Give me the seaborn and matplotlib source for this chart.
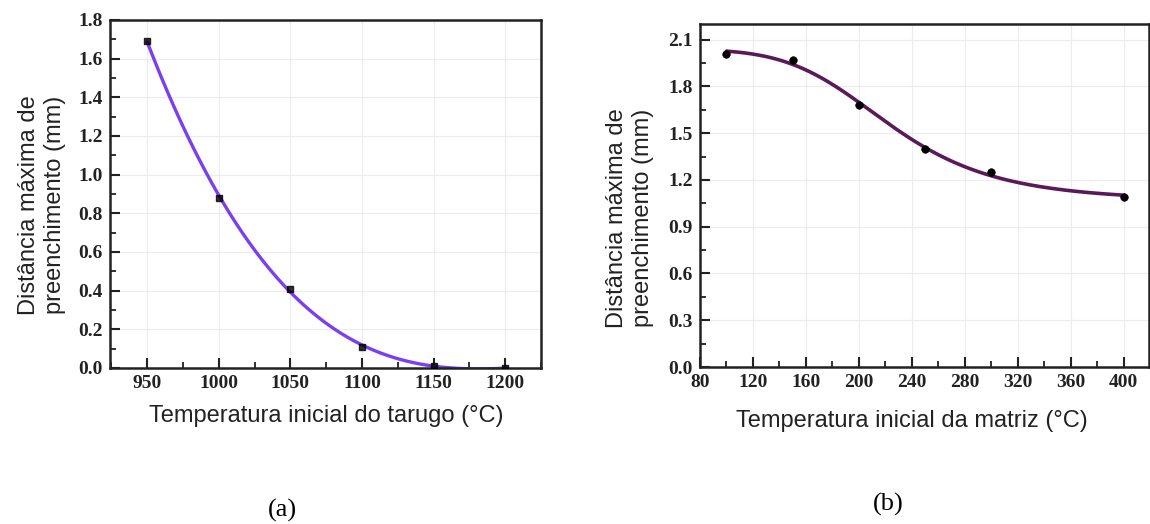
import matplotlib
matplotlib.use("Agg")
import matplotlib.pyplot as plt
from matplotlib.ticker import MultipleLocator, FormatStrFormatter
import seaborn as sns
import pandas as pd
import numpy as np

# ---- data ----
temp_tarugo = [950, 1000, 1050, 1100, 1150, 1200]
dist_a = [1.69, 0.88, 0.41, 0.11, 0.01, 0.00]

temp_matriz = [100, 150, 200, 250, 300, 400]
dist_b = [2.01, 1.97, 1.68, 1.40, 1.25, 1.09]

ylabel_txt = "Distância máxima de\npreenchimento (mm)"
xlabel_a = "Temperatura inicial do tarugo (°C)"
xlabel_b = "Temperatura inicial da matriz (°C)"

sns.set_theme(style="white")
plt.rcParams['font.family'] = ['Liberation Sans', 'DejaVu Sans']

W, H = 1150, 524
fig = plt.figure(figsize=(W / 100, H / 100), dpi=100)

def frac(l, r, t, b):
    return [l / W, 1 - b / H, (r - l) / W, (b - t) / H]

ax1 = fig.add_axes(frac(110, 541, 20, 368))
ax2 = fig.add_axes(frac(700, 1149, 24, 367))

df_a = pd.DataFrame({"x": temp_tarugo, "y": dist_a})
df_b = pd.DataFrame({"x": temp_matriz, "y": dist_b})

# (a) polynomial fit drawn by seaborn
sns.regplot(data=df_a, x="x", y="y", order=3, ci=None, ax=ax1, marker="s",
            scatter_kws={"color": "black", "s": 22, "zorder": 3},
            line_kws={"color": "#7b3ff0", "lw": 2.4, "zorder": 2})

# (b) logistic (dose-response) least-squares fit of the data
xb = np.asarray(temp_matriz, float)
yb = np.asarray(dist_b, float)
best = None
for x0 in np.arange(150, 400, 1.0):
    for p in np.arange(1.0, 15.0, 0.1):
        f = 1.0 / (1.0 + (xb / x0) ** p)
        A = np.column_stack([np.ones_like(f), f])
        coef, *_ = np.linalg.lstsq(A, yb, rcond=None)
        r = np.sum((A @ coef - yb) ** 2)
        if best is None or r < best[0]:
            best = (r, x0, p, coef)
_, x0, p, (a2, d) = best
xfit = np.linspace(xb.min(), xb.max(), 200)
yfit = a2 + d / (1.0 + (xfit / x0) ** p)
sns.lineplot(x=xfit, y=yfit, ax=ax2, color="#5a1a5a", lw=2.6, zorder=2)
sns.scatterplot(data=df_b, x="x", y="y", ax=ax2, color="black", s=30,
                edgecolor="black", zorder=3)

ax1.set_xlim(924, 1225)
ax1.set_ylim(0, 1.8)
ax1.xaxis.set_major_locator(MultipleLocator(50))
ax1.xaxis.set_minor_locator(MultipleLocator(25))
ax1.yaxis.set_major_locator(MultipleLocator(0.2))
ax1.yaxis.set_minor_locator(MultipleLocator(0.1))

ax2.set_xlim(80, 419)
ax2.set_ylim(0, 2.2)
ax2.xaxis.set_major_locator(MultipleLocator(40))
ax2.xaxis.set_minor_locator(MultipleLocator(20))
ax2.set_yticks([0.0, 0.3, 0.6, 0.9, 1.2, 1.5, 1.8, 2.1])
ax2.yaxis.set_minor_locator(MultipleLocator(0.15))

for ax in (ax1, ax2):
    ax.yaxis.set_major_formatter(FormatStrFormatter('%.1f'))
    ax.set_xlabel("")
    ax.set_ylabel("")
    ax.grid(True, which="major", color="#ececec", lw=0.8)
    ax.set_axisbelow(True)
    for s in ax.spines.values():
        s.set_color("#222222")
        s.set_linewidth(1.8)
    ax.tick_params(which="both", direction="in", top=False, right=False,
                   bottom=True, left=True, color="#222222")
    ax.tick_params(which="major", length=7, width=1.5, pad=5)
    ax.tick_params(which="minor", length=4, width=1.3)
    for lab in ax.get_xticklabels() + ax.get_yticklabels():
        lab.set_family(['Liberation Serif', 'DejaVu Serif'])
        lab.set_fontweight('bold')
        lab.set_fontsize(14)
        lab.set_color("#222222")

# axis labels
fig.text(326 / W, 1 - 416 / H, xlabel_a, ha="center", va="center", fontsize=17, color="#222222")
fig.text(912 / W, 1 - 421 / H, xlabel_b, ha="center", va="center", fontsize=17, color="#222222")
fig.text(42 / W, 1 - 205 / H, ylabel_txt, ha="center", va="center", rotation=90,
         fontsize=17, color="#222222", linespacing=1.25)
fig.text(630 / W, 1 - 218 / H, ylabel_txt, ha="center", va="center", rotation=90,
         fontsize=17, color="#222222", linespacing=1.25)

# panel labels
fig.text(282 / W, 1 - 510 / H, "(a)", ha="center", va="center", fontsize=19,
         family=['Liberation Serif', 'DejaVu Serif'], color="black")
fig.text(888 / W, 1 - 504 / H, "(b)", ha="center", va="center", fontsize=19,
         family=['Liberation Serif', 'DejaVu Serif'], color="black")

fig.savefig("out.png", dpi=100, facecolor="white")
